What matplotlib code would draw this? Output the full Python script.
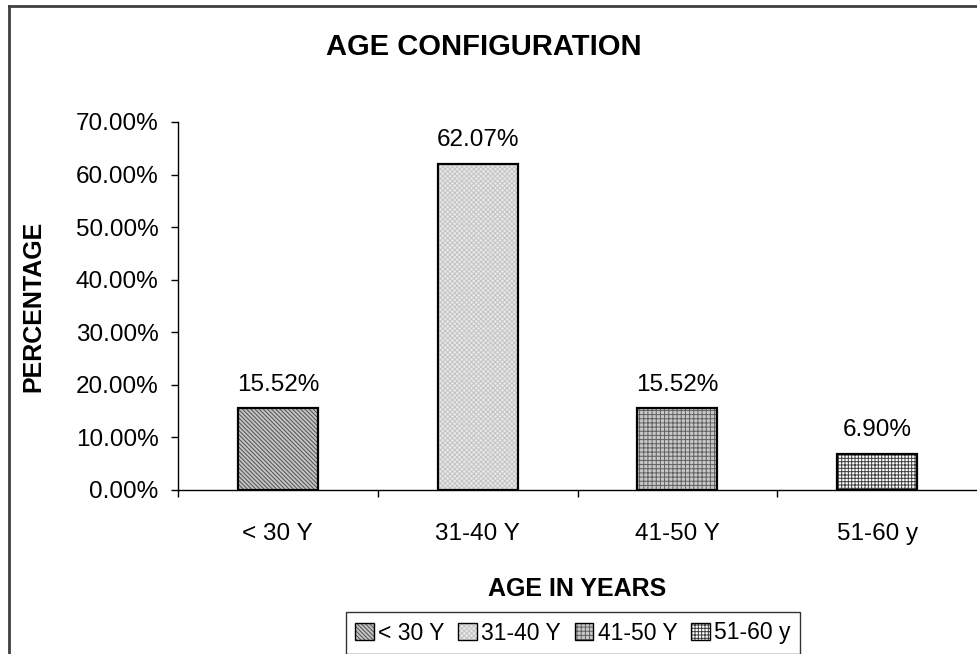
import numpy as np
import matplotlib
matplotlib.use("Agg")
import matplotlib.pyplot as plt
from matplotlib.lines import Line2D
from matplotlib.patches import Patch
from matplotlib.ticker import FixedLocator, FuncFormatter

plt.rcParams['font.family'] = ['Liberation Sans', 'DejaVu Sans']
plt.rcParams['hatch.linewidth'] = 0.7

# data
age_groups = ['< 30 Y', '31-40 Y', '41-50 Y', '51-60 y']
percent = [15.52, 62.07, 15.52, 6.90]
y_ticks = [0, 10, 20, 30, 40, 50, 60, 70]

# look of each bar: (face, hatch colour, hatch)
styles = [('#c4c4c4', '#505050', '\\' * 8),
          ('#e8e8e8', '#c4c4c4', 'x' * 7),
          ('#c8c8c8', '#606060', '+' * 4),
          ('#ffffff', '#404040', '+' * 5)]

fig = plt.figure(figsize=(9.77, 6.54), dpi=100)
ax = fig.add_axes([178/977, 1 - 490/654, 1 - 178/977, (490 - 122)/654])

x = np.arange(len(age_groups))
handles = []
for i, (face, hcol, hatch) in enumerate(styles):
    ax.bar(x[i], percent[i], width=0.4, color=face, edgecolor=hcol, hatch=hatch, linewidth=0)
    ax.bar(x[i], percent[i], width=0.4, fill=False, edgecolor='black', linewidth=1.6)
    handles.append((Patch(facecolor=face, edgecolor=hcol, hatch=hatch, linewidth=0),
                    Patch(fill=False, edgecolor='black', linewidth=1.0)))
    ax.annotate('%.2f%%' % percent[i], (x[i], percent[i]), xytext=(0, 9),
                textcoords='offset points', ha='center', va='bottom', fontsize=17.5)

ax.set_xlim(-0.5, 3.5)
ax.set_ylim(0, 70)
ax.set_yticks(y_ticks)
ax.yaxis.set_major_formatter(FuncFormatter(lambda v, p: '%.2f%%' % v))
ax.set_xticks(x)
ax.set_xticklabels(age_groups)
ax.xaxis.set_minor_locator(FixedLocator([-0.5, 0.5, 1.5, 2.5]))
ax.tick_params(axis='x', which='major', length=0, pad=24, labelsize=17.5)
ax.tick_params(axis='x', which='minor', length=5, width=1, direction='out')
ax.tick_params(axis='y', length=5, width=1, pad=9, labelsize=17.5)

for s in ['top', 'right']:
    ax.spines[s].set_visible(False)
for s in ['left', 'bottom']:
    ax.spines[s].set_linewidth(1)

ax.set_ylabel('PERCENTAGE', fontsize=18, fontweight='bold')
ax.yaxis.set_label_coords(-0.166, 0.5)
ax.set_xlabel('AGE IN YEARS', fontsize=18, fontweight='bold')
ax.xaxis.set_label_coords(0.5, -0.236)

fig.text(484/977, 1 - 47/654, 'AGE CONFIGURATION', ha='center', va='center',
         fontsize=21, fontweight='bold')

leg = fig.legend(handles, age_groups, loc='center', bbox_to_anchor=(573/977, 1 - 633/654),
                 ncol=4, fontsize=16.5, frameon=True, fancybox=False, edgecolor='black',
                 handlelength=0.8, handleheight=0.8, handletextpad=0.2, columnspacing=0.6,
                 borderpad=0.4, borderaxespad=0)
leg.get_frame().set_linewidth(1)

# chart area border (cropped on right/bottom)
fig.add_artist(Line2D([9/977, 9/977], [0, 1 - 6/654], color='#404040', linewidth=2))
fig.add_artist(Line2D([9/977, 1], [1 - 6/654, 1 - 6/654], color='#404040', linewidth=2))

fig.savefig('out.png', dpi=100)
